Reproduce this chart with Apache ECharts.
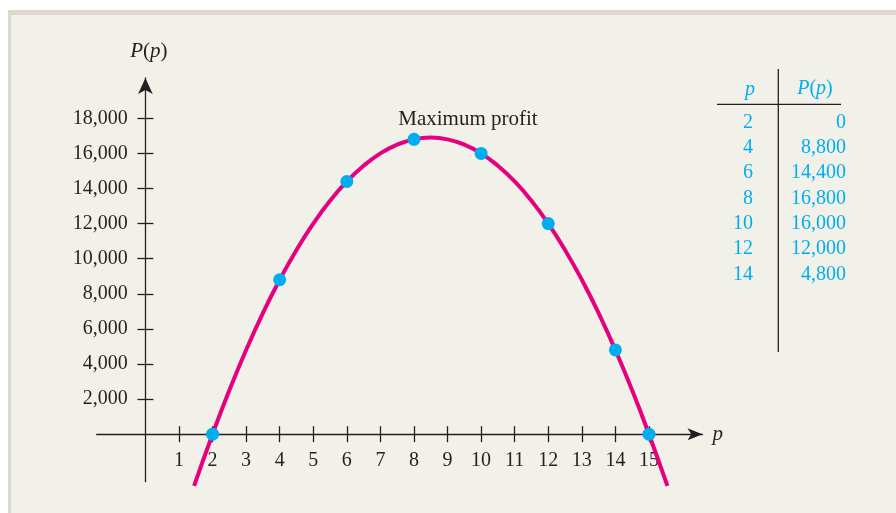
<!DOCTYPE html>
<html>
<head>
<meta charset="utf-8">
<script src="https://cdn.jsdelivr.net/npm/echarts@6/dist/echarts.min.js"></script>
<style>
  html, body { margin: 0; padding: 0; background: #ffffff; }
  #wrap { position: relative; width: 896px; height: 513px; overflow: hidden; }
  #panel {
    position: absolute; left: 8px; top: 10px; right: 0; bottom: 0;
    background: #f2f1e9;
    border-top: 5px solid #dcd9cc;
    border-left: 3px solid #dcd9cc;
  }
  #chart { position: absolute; left: 0; top: 0; width: 896px; height: 513px; }
</style>
</head>
<body>
<div id="wrap"><div id="panel"></div><div id="chart"></div></div>
<script>
// Profit curve P(p), sampled every half unit along the drawn parabola
const curveP = [1.45, 2, 2.5, 3, 3.5, 4, 4.5, 5, 5.5, 6, 6.5, 7, 7.5, 8, 8.5,
                9, 9.5, 10, 10.5, 11, 11.5, 12, 12.5, 13, 13.5, 14, 14.5, 15, 15.55];
const curveProfit = [-2950, 0, 2500, 4800, 6900, 8800, 10500, 12000, 13300, 14400, 15300, 16000, 16500, 16800, 16900,
                     16800, 16500, 16000, 15300, 14400, 13300, 12000, 10500, 8800, 6900, 4800, 2500, 0, -2950];

// Highlighted points on the curve
const pointP      = [2, 4, 6, 8, 10, 12, 14, 15];
const pointProfit = [0, 8800, 14400, 16800, 16000, 12000, 4800, 0];

// Value table at the right
const tableP      = [2, 4, 6, 8, 10, 12, 14];
const tableProfit = [0, 8800, 14400, 16800, 16000, 12000, 4800];

// Tick labels
const pTicks      = [1, 2, 3, 4, 5, 6, 7, 8, 9, 10, 11, 12, 13, 14, 15];
const profitTicks = [2000, 4000, 6000, 8000, 10000, 12000, 14000, 16000, 18000];

const peakP = 8;
const peakText = 'Maximum profit';

const FONT = '"Liberation Serif", "Times New Roman", serif';
const INK = '#231f20';
const CYAN = '#00aeef';
const MAGENTA = '#e6007e';

const X_MIN = -1.451, X_MAX = 16.595;
const Y_MIN = -2707, Y_MAX = 20296;

const fmt = v => v.toLocaleString('en-US');

const axisLineStyle = { color: INK, width: 1.3 };
const tickStyle = { color: INK, width: 1.3 };
const labelStyle = { fontFamily: FONT, fontSize: 20, color: INK };

const chart = echarts.init(document.getElementById('chart'), null, { renderer: 'canvas' });

// table graphics
const tableGraphics = [];
const rowY0 = 122.5, rowStep = 25.3;
tableGraphics.push({
  type: 'text',
  style: { x: 750, y: 90, text: 'p', font: 'italic 20px ' + FONT, fill: CYAN, textAlign: 'center', textVerticalAlign: 'middle' }
});
tableGraphics.push({
  type: 'text',
  style: {
    x: 815, y: 89, text: '{i|P}({i|p})', font: '20px ' + FONT, fill: CYAN,
    textAlign: 'center', textVerticalAlign: 'middle',
    rich: { i: { fontStyle: 'italic', fontFamily: FONT, fontSize: 20, fill: CYAN, color: CYAN } }
  }
});
tableP.forEach((p, i) => {
  tableGraphics.push({
    type: 'text',
    style: { x: 753, y: rowY0 + i * rowStep, text: String(p), font: '20px ' + FONT, fill: CYAN, textAlign: 'right', textVerticalAlign: 'middle' }
  });
  tableGraphics.push({
    type: 'text',
    style: { x: 846, y: rowY0 + i * rowStep, text: fmt(tableProfit[i]), font: '20px ' + FONT, fill: CYAN, textAlign: 'right', textVerticalAlign: 'middle' }
  });
});
tableGraphics.push({
  type: 'line', shape: { x1: 717, y1: 104.3, x2: 841, y2: 104.3 },
  style: { stroke: INK, lineWidth: 1.3 }
});
tableGraphics.push({
  type: 'line', shape: { x1: 778.3, y1: 69, x2: 778.3, y2: 352 },
  style: { stroke: INK, lineWidth: 1.3 }
});

const option = {
  animation: false,
  backgroundColor: 'transparent',
  grid: { left: 96.7, top: 78, width: 605.8, height: 403.7, containLabel: false },
  xAxis: [
    {
      type: 'value', min: X_MIN, max: X_MAX, position: 'bottom',
      axisLine: { show: true, onZero: true, onZeroAxisIndex: 0, symbol: ['none', 'arrow'], symbolSize: [9, 15], lineStyle: axisLineStyle },
      axisTick: { show: true, customValues: pTicks, length: 8, lineStyle: tickStyle },
      // labels sit under the zero line, not at the grid edge
      axisLabel: { show: true, customValues: pTicks, margin: -30.5, ...labelStyle },
      splitLine: { show: false },
      name: 'p', nameLocation: 'end', nameGap: 10,
      nameTextStyle: { fontFamily: FONT, fontSize: 21, fontStyle: 'italic', color: INK, padding: [6, 0, 0, 0] }
    },
    {
      type: 'value', min: X_MIN, max: X_MAX, position: 'bottom',
      axisLine: { show: false, onZero: true, onZeroAxisIndex: 0 },
      axisTick: { show: true, inside: true, customValues: pTicks, length: 8, lineStyle: tickStyle },
      axisLabel: { show: false },
      splitLine: { show: false }
    }
  ],
  yAxis: [
    {
      type: 'value', min: Y_MIN, max: Y_MAX, position: 'left',
      axisLine: { show: true, onZero: true, onZeroAxisIndex: 0, symbol: ['none', 'arrow'], symbolSize: [11, 16], lineStyle: axisLineStyle },
      axisTick: { show: true, customValues: profitTicks, length: 8, lineStyle: tickStyle },
      // labels sit beside the zero line, not at the grid edge
      axisLabel: { show: true, customValues: profitTicks, margin: -31, padding: [6, 0, 0, 0], formatter: v => fmt(v), ...labelStyle },
      splitLine: { show: false },
      name: '{i|P}({i|p})', nameLocation: 'end', nameGap: 16,
      nameTextStyle: {
        fontFamily: FONT, fontSize: 21, color: INK, padding: [0, 0, 0, 7],
        rich: { i: { fontFamily: FONT, fontSize: 21, fontStyle: 'italic', color: INK } }
      }
    },
    {
      type: 'value', min: Y_MIN, max: Y_MAX, position: 'left',
      axisLine: { show: false, onZero: true, onZeroAxisIndex: 0 },
      axisTick: { show: true, inside: true, customValues: profitTicks, length: 8, lineStyle: tickStyle },
      axisLabel: { show: false },
      splitLine: { show: false }
    }
  ],
  series: [
    {
      type: 'line',
      xAxisIndex: 0, yAxisIndex: 0,
      data: curveP.map((p, i) => [p, curveProfit[i]]),
      smooth: true,
      showSymbol: false,
      clip: false,
      lineStyle: { color: MAGENTA, width: 4 },
      z: 3
    },
    {
      type: 'scatter',
      xAxisIndex: 0, yAxisIndex: 0,
      data: pointP.map((p, i) => [p, pointProfit[i]]),
      symbolSize: 13,
      itemStyle: { color: CYAN, opacity: 1 },
      label: {
        show: true,
        position: 'top',
        offset: [54, 2],
        formatter: params => (params.value[0] === peakP ? peakText : ''),
        fontFamily: FONT, fontSize: 21, color: INK
      },
      z: 4
    }
  ],
  graphic: { elements: tableGraphics }
};

chart.setOption(option);
</script>
</body>
</html>
